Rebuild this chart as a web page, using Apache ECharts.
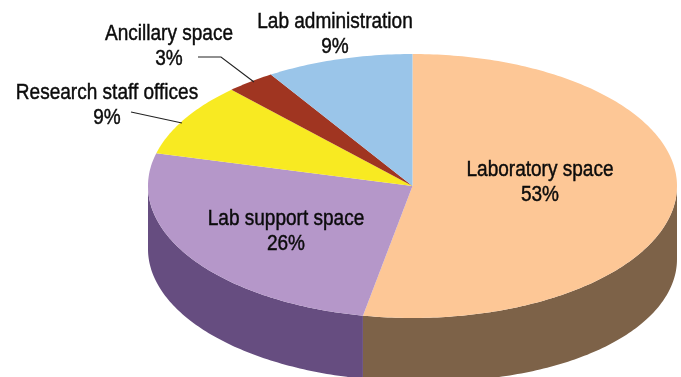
<!DOCTYPE html>
<html>
<head>
<meta charset="utf-8">
<style>html,body{margin:0;padding:0;background:#fff}#chart{width:681px;height:377px}</style>
<script src="https://cdn.jsdelivr.net/npm/echarts@6/dist/echarts.min.js"></script>
</head>
<body>
<div id="chart"></div>
<script>
// Share of floor area, clockwise from twelve o'clock
const categories = ['Laboratory space', 'Lab support space', 'Research staff offices', 'Ancillary space', 'Lab administration'];
const shares = [53, 26, 9, 3, 9];
const topColors = ['#FDC796', '#B597C9', '#F8EA22', '#A03521', '#9AC5E9'];
const sideColors = ['#7D6248', '#664D80', '#A89E17', '#6B2416', '#66839B'];

// Tilted disc geometry and label placement, in pixels
const disc = { cx: 412.5, cy: 186, rx: 264.5, ry: 132, depth: 63, rightBulge: 10 };
const labelCentres = [[540, 182], [286, 231], [107, 105], [169, 46], [335, 34]];
const leaders = [null, null, [[131, 112], [182, 123]], [[198, 57], [221, 57], [254, 82]], null];

const rows = [];
let running = 0;
shares.forEach((share, i) => {
  rows.push([running, running + share, i]);
  running += share;
});

function rimPoint(percent, drop) {
  const a = percent / 100 * 2 * Math.PI;
  return [disc.cx + disc.rx * Math.sin(a), disc.cy - disc.ry * Math.cos(a) + drop];
}

function arc(from, to, wall) {
  const pts = [];
  const steps = Math.max(2, Math.ceil((to - from) * 4));
  for (let s = 0; s <= steps; s++) {
    const p = from + (to - from) * s / steps;
    // The wall looks slightly taller on the side nearer the viewer's right
    const drop = wall ? disc.depth + disc.rightBulge * Math.max(0, Math.sin(p / 100 * 2 * Math.PI)) : 0;
    pts.push(rimPoint(p, drop));
  }
  return pts;
}

function renderSlice(params, api) {
  const from = api.value(0), to = api.value(1), i = api.value(2);
  const children = [];

  // The wall shows only along the front half of the rim (25%..75%)
  const wallFrom = Math.max(from, 25), wallTo = Math.min(to, 75);
  if (wallTo > wallFrom) {
    children.push({
      type: 'polygon',
      shape: { points: arc(wallFrom, wallTo, false).concat(arc(wallFrom, wallTo, true).reverse()) },
      style: { fill: sideColors[i] }
    });
  }

  children.push({
    type: 'polygon',
    shape: { points: [[disc.cx, disc.cy]].concat(arc(from, to, false)) },
    style: { fill: topColors[i] }
  });

  if (leaders[i]) {
    children.push({
      type: 'polyline',
      z2: 5,
      shape: { points: leaders[i] },
      style: { fill: null, stroke: '#222', lineWidth: 1.1 }
    });
  }

  // Condensed lettering: a regular sans narrowed horizontally and slightly thickened
  children.push({
    type: 'text',
    z2: 10,
    x: labelCentres[i][0],
    y: labelCentres[i][1],
    scaleX: 0.865,
    style: {
      text: categories[i] + '\n' + shares[i] + '%',
      fill: '#0b0b0b',
      stroke: '#0b0b0b',
      lineWidth: 0.45,
      font: '22px "Liberation Sans", sans-serif',
      lineHeight: 25,
      align: 'center',
      verticalAlign: 'middle'
    }
  });

  return { type: 'group', children };
}

const chart = echarts.init(document.getElementById('chart'), null, { renderer: 'canvas' });
chart.setOption({
  animation: false,
  backgroundColor: '#fff',
  series: [{
    type: 'custom',
    coordinateSystem: 'none',
    silent: true,
    renderItem: renderSlice,
    data: rows
  }]
});
</script>
</body>
</html>
